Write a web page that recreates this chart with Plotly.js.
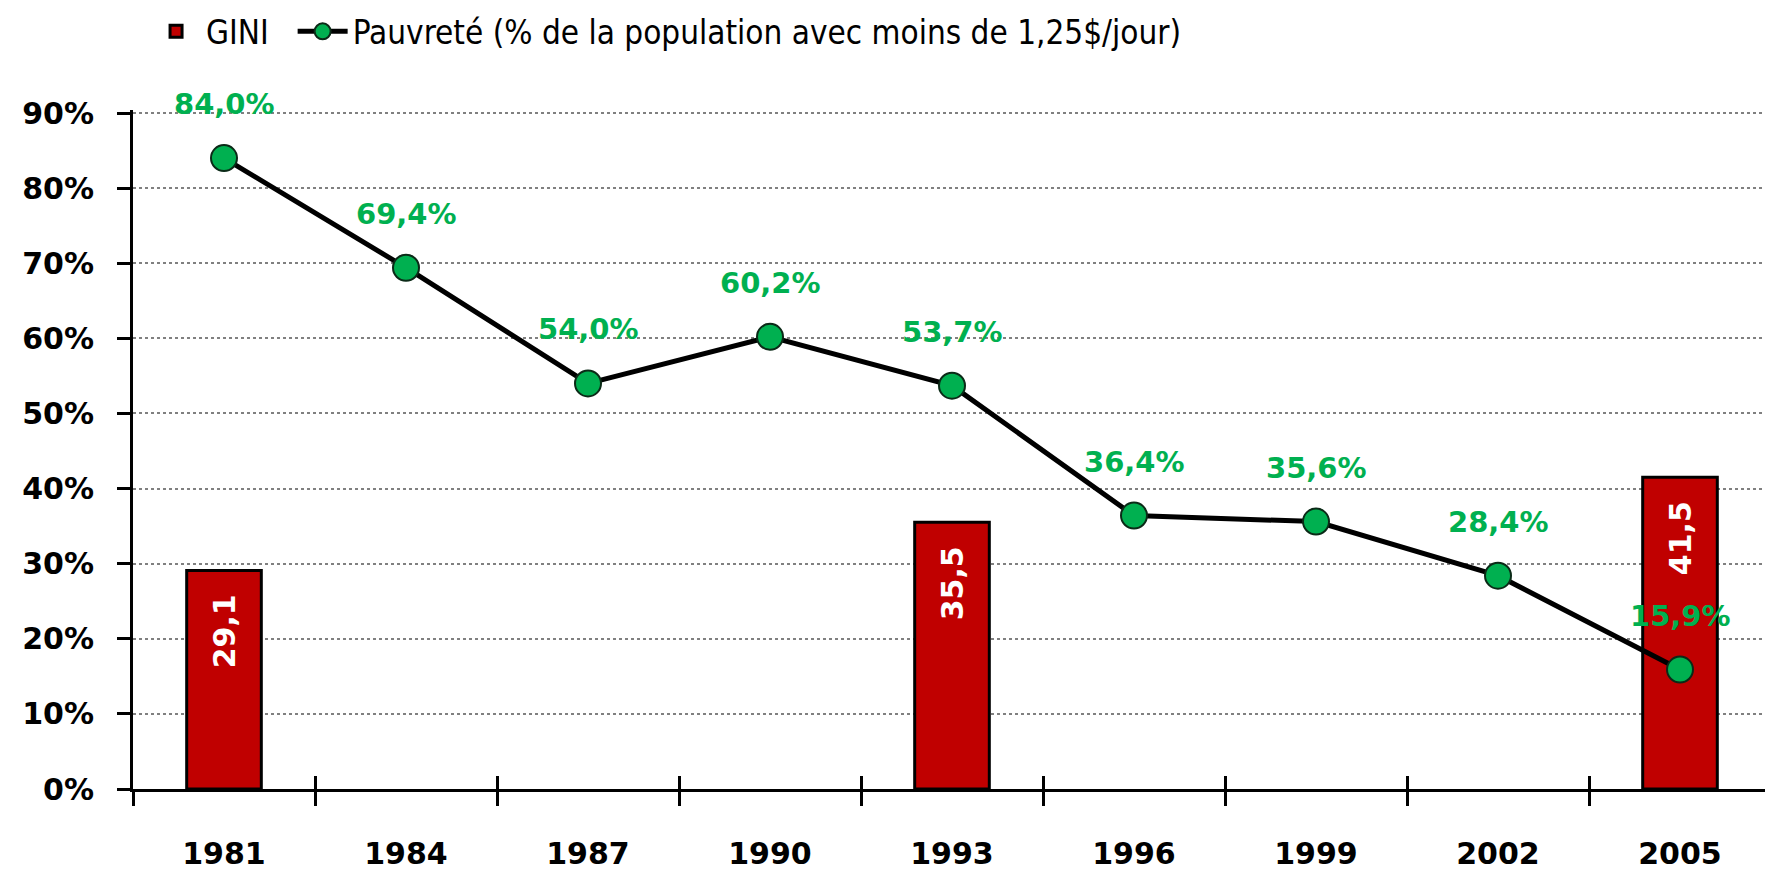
<!DOCTYPE html>
<html>
<head>
<meta charset="utf-8">
<script src="https://cdn.plot.ly/plotly-3.0.1.min.js"></script>
<style>html,body{margin:0;padding:0;background:#fff}#chart{width:1765px;height:873px}</style>
</head>
<body>
<div id="chart"></div>
<script>
const years = ['1981','1984','1987','1990','1993','1996','1999','2002','2005'];
const poverty = [84.0, 69.4, 54.0, 60.2, 53.7, 36.4, 35.6, 28.4, 15.9];
const giniYears = ['1981','1993','2005'];
const gini = [29.1, 35.5, 41.5];
const yTicks = [0,10,20,30,40,50,60,70,80,90];

const GREEN = '#00B050';
const RED = '#C00000';
const boldFont = {family: 'DejaVu Sans, Verdana, sans-serif', size: 30, color: '#000', weight: 'bold'};

const fmt = v => v.toFixed(1).replace('.', ',') + '%';
const xMax = -0.5 + 1632/182;

const traces = [
  {
    type: 'bar', name: 'GINI\u00a0\u00a0', x: giniYears, y: gini, width: 0.41,
    marker: {color: RED, line: {color: '#000', width: 3}},
    texttemplate: '%{y:.1f}\u00a0\u00a0', textposition: 'inside', insidetextanchor: 'end',
    textangle: -90, insidetextfont: {family: 'DejaVu Sans, sans-serif', size: 30, color: '#fff', weight: 'bold'},
    hoverinfo: 'skip'
  },
  {
    type: 'scatter', mode: 'lines+markers', name: 'Pauvreté (% de la population avec moins de 1,25$/jour)',
    x: years, y: poverty,
    line: {color: '#000', width: 5},
    marker: {color: GREEN, size: 26, line: {color: '#0b2a17', width: 2}},
    hoverinfo: 'skip', cliponaxis: false
  },
  {
    type: 'scatter', mode: 'markers', x: [0], y: [0], xaxis: 'x2',
    showlegend: false, hoverinfo: 'skip', marker: {opacity: 0, size: 1}
  }
];

const annotations = years.map((yr, i) => ({
  x: i, y: poverty[i], xref: 'x', yref: 'y', text: '<b>' + fmt(poverty[i]) + '</b>',
  showarrow: false, yshift: 54,
  font: {family: 'DejaVu Sans, sans-serif', size: 29, color: GREEN}
}));

const layout = {
  width: 1765, height: 873,
  margin: {l: 133, r: 0, t: 110, b: 84},
  paper_bgcolor: '#fff', plot_bgcolor: '#fff',
  separators: ', ',
  showlegend: true,
  legend: {
    orientation: 'h', x: 0.008, xanchor: 'left', y: 1.157, yanchor: 'top',
    font: {family: 'DejaVu Sans Condensed, DejaVu Sans, sans-serif', size: 33, color: '#000'},
    traceorder: 'normal', itemwidth: 50
  },
  xaxis: {
    type: 'category', categoryorder: 'array', categoryarray: years,
    range: [-0.5, xMax],
    showline: true, linecolor: '#000', linewidth: 3,
    ticks: 'outside', ticklen: 14, tickwidth: 3, tickcolor: '#000',
    tickson: 'boundaries', showgrid: false, zeroline: false,
    tickfont: boldFont, ticklabelstandoff: 36
  },
  xaxis2: {
    type: 'linear', overlaying: 'x', anchor: 'y', side: 'bottom',
    range: [-0.5, xMax],
    tickmode: 'array', tickvals: years.map((_, i) => i + 0.5),
    ticks: 'inside', ticklen: 13, tickwidth: 3, tickcolor: '#000',
    showticklabels: false, showgrid: false, zeroline: false, showline: false
  },
  yaxis: {
    range: [0, 90.4], tickmode: 'array', tickvals: yTicks, ticktext: yTicks.map(v => v + '%'),
    showline: true, linecolor: '#000', linewidth: 3,
    ticks: 'outside', ticklen: 13, tickwidth: 3, tickcolor: '#000',
    showgrid: true, gridcolor: '#808080', gridwidth: 2, griddash: 'dot',
    zeroline: false, tickfont: boldFont, ticklabelstandoff: 17
  },
  annotations: annotations
};

Plotly.newPlot('chart', traces, layout, {displayModeBar: false, staticPlot: true});
</script>
</body>
</html>
